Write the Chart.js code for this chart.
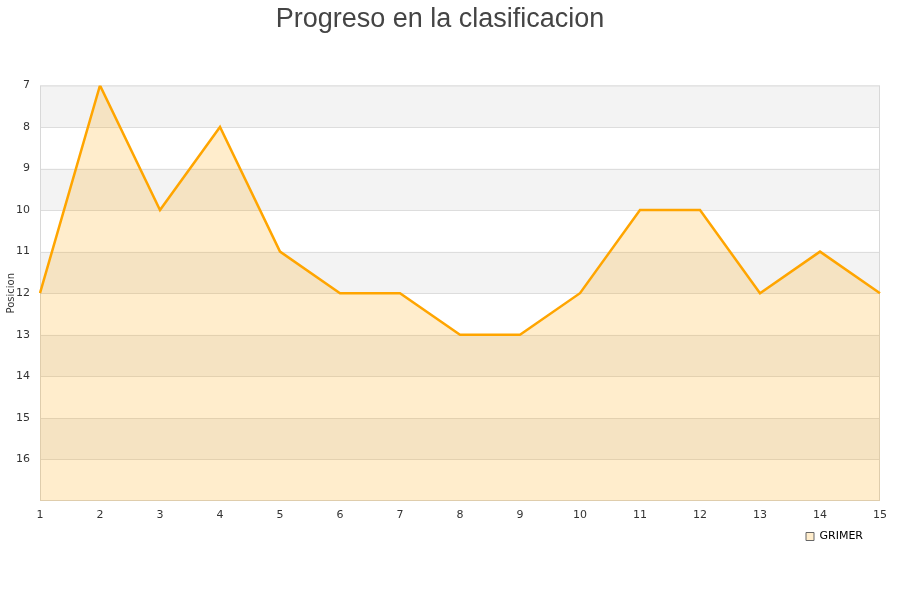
<!DOCTYPE html>
<html>
<head>
<meta charset="utf-8">
<script src="https://cdn.jsdelivr.net/npm/chart.js@4"></script>
<style>
html,body{margin:0;padding:0;background:#fff;}
#wrap{width:900px;height:600px;position:relative;}
</style>
</head>
<body>
<div id="wrap"><canvas id="c" width="900" height="600"></canvas></div>
<script>
const jornadas = ["1","2","3","4","5","6","7","8","9","10","11","12","13","14","15"];
const posiciones = [12,7,10,8,11,12,12,13,13,12,10,10,12,11,12];
const equipo = "GRIMER";
const yMin = 7, yMax = 17;

const bands = {
  id: 'bands',
  beforeDatasetsDraw(chart) {
    const {ctx, chartArea:a, scales:{y}} = chart;
    ctx.save();
    ctx.fillStyle = '#f3f3f3';
    for (let v = yMin; v < yMax; v += 2) {
      const y1 = y.getPixelForValue(v), y2 = y.getPixelForValue(v+1);
      ctx.fillRect(a.left, Math.min(y1,y2), a.right-a.left, Math.abs(y2-y1));
    }
    ctx.strokeStyle = '#dddddd';
    ctx.lineWidth = 1;
    for (let v = yMin+1; v < yMax; v++) {
      const p = Math.round(y.getPixelForValue(v)) + 0.5;
      ctx.beginPath(); ctx.moveTo(a.left, p); ctx.lineTo(a.right, p); ctx.stroke();
    }
    ctx.strokeStyle = '#d8d8d8';
    ctx.strokeRect(a.left+0.5, a.top+0.5, a.right-a.left-1, a.bottom-a.top-1);
    ctx.restore();
  }
};

const legendShift = {
  id: 'legendShift',
  afterLayout(chart) {
    if (chart.legend) chart.legend.right -= 11;
  }
};

new Chart(document.getElementById('c'), {
  type: 'line',
  data: {
    labels: jornadas,
    datasets: [{
      label: equipo,
      data: posiciones,
      borderColor: '#ffa500',
      backgroundColor: 'rgba(255,165,0,0.2)',
      borderWidth: 2.5,
      pointRadius: 0,
      tension: 0,
      fill: { value: yMax }
    }]
  },
  options: {
    responsive: false,
    animation: false,
    layout: { padding: { left: 0, right: 20, top: 3, bottom: 48 } },
    plugins: {
      title: {
        display: true,
        text: 'Progreso en la clasificacion',
        color: '#444',
        font: { family: 'Liberation Sans, Arial, sans-serif', size: 27, weight: 'normal' },
        padding: { top: 0, bottom: 50 }
      },
      legend: {
        position: 'bottom',
        align: 'end',
        labels: {
          boxWidth: 8, boxHeight: 8,
          color: '#000',
          font: { family: 'DejaVu Sans, sans-serif', size: 11 },
          padding: 6,
          generateLabels(chart) {
            return [{ text: equipo, fillStyle: 'rgba(255,165,0,0.2)', strokeStyle: '#666', lineWidth: 1, datasetIndex: 0 }];
          }
        }
      },
      tooltip: { enabled: false }
    },
    scales: {
      x: {
        type: 'category',
        offset: false,
        grid: { display: false, drawTicks: false },
        border: { display: false },
        ticks: { color: '#333', font: { family: 'DejaVu Sans, sans-serif', size: 11 }, padding: 8, maxRotation: 0, autoSkip: false },
        afterFit(s) { s.height = 24; }
      },
      y: {
        reverse: true,
        min: yMin, max: yMax,
        grid: { display: false, drawTicks: false },
        border: { display: false },
        ticks: {
          stepSize: 1, color: '#333', padding: 10,
          font: { family: 'DejaVu Sans, sans-serif', size: 11 },
          callback: v => (v >= yMax ? '' : v)
        },
        title: { display: true, text: 'Posicion', color: '#333', font: { family: 'DejaVu Sans, sans-serif', size: 10 }, padding: { top: 5, bottom: 0 } },
        afterFit(s) { s.width = 40; }
      }
    }
  },
  plugins: [bands, legendShift]
});
</script>
</body>
</html>
